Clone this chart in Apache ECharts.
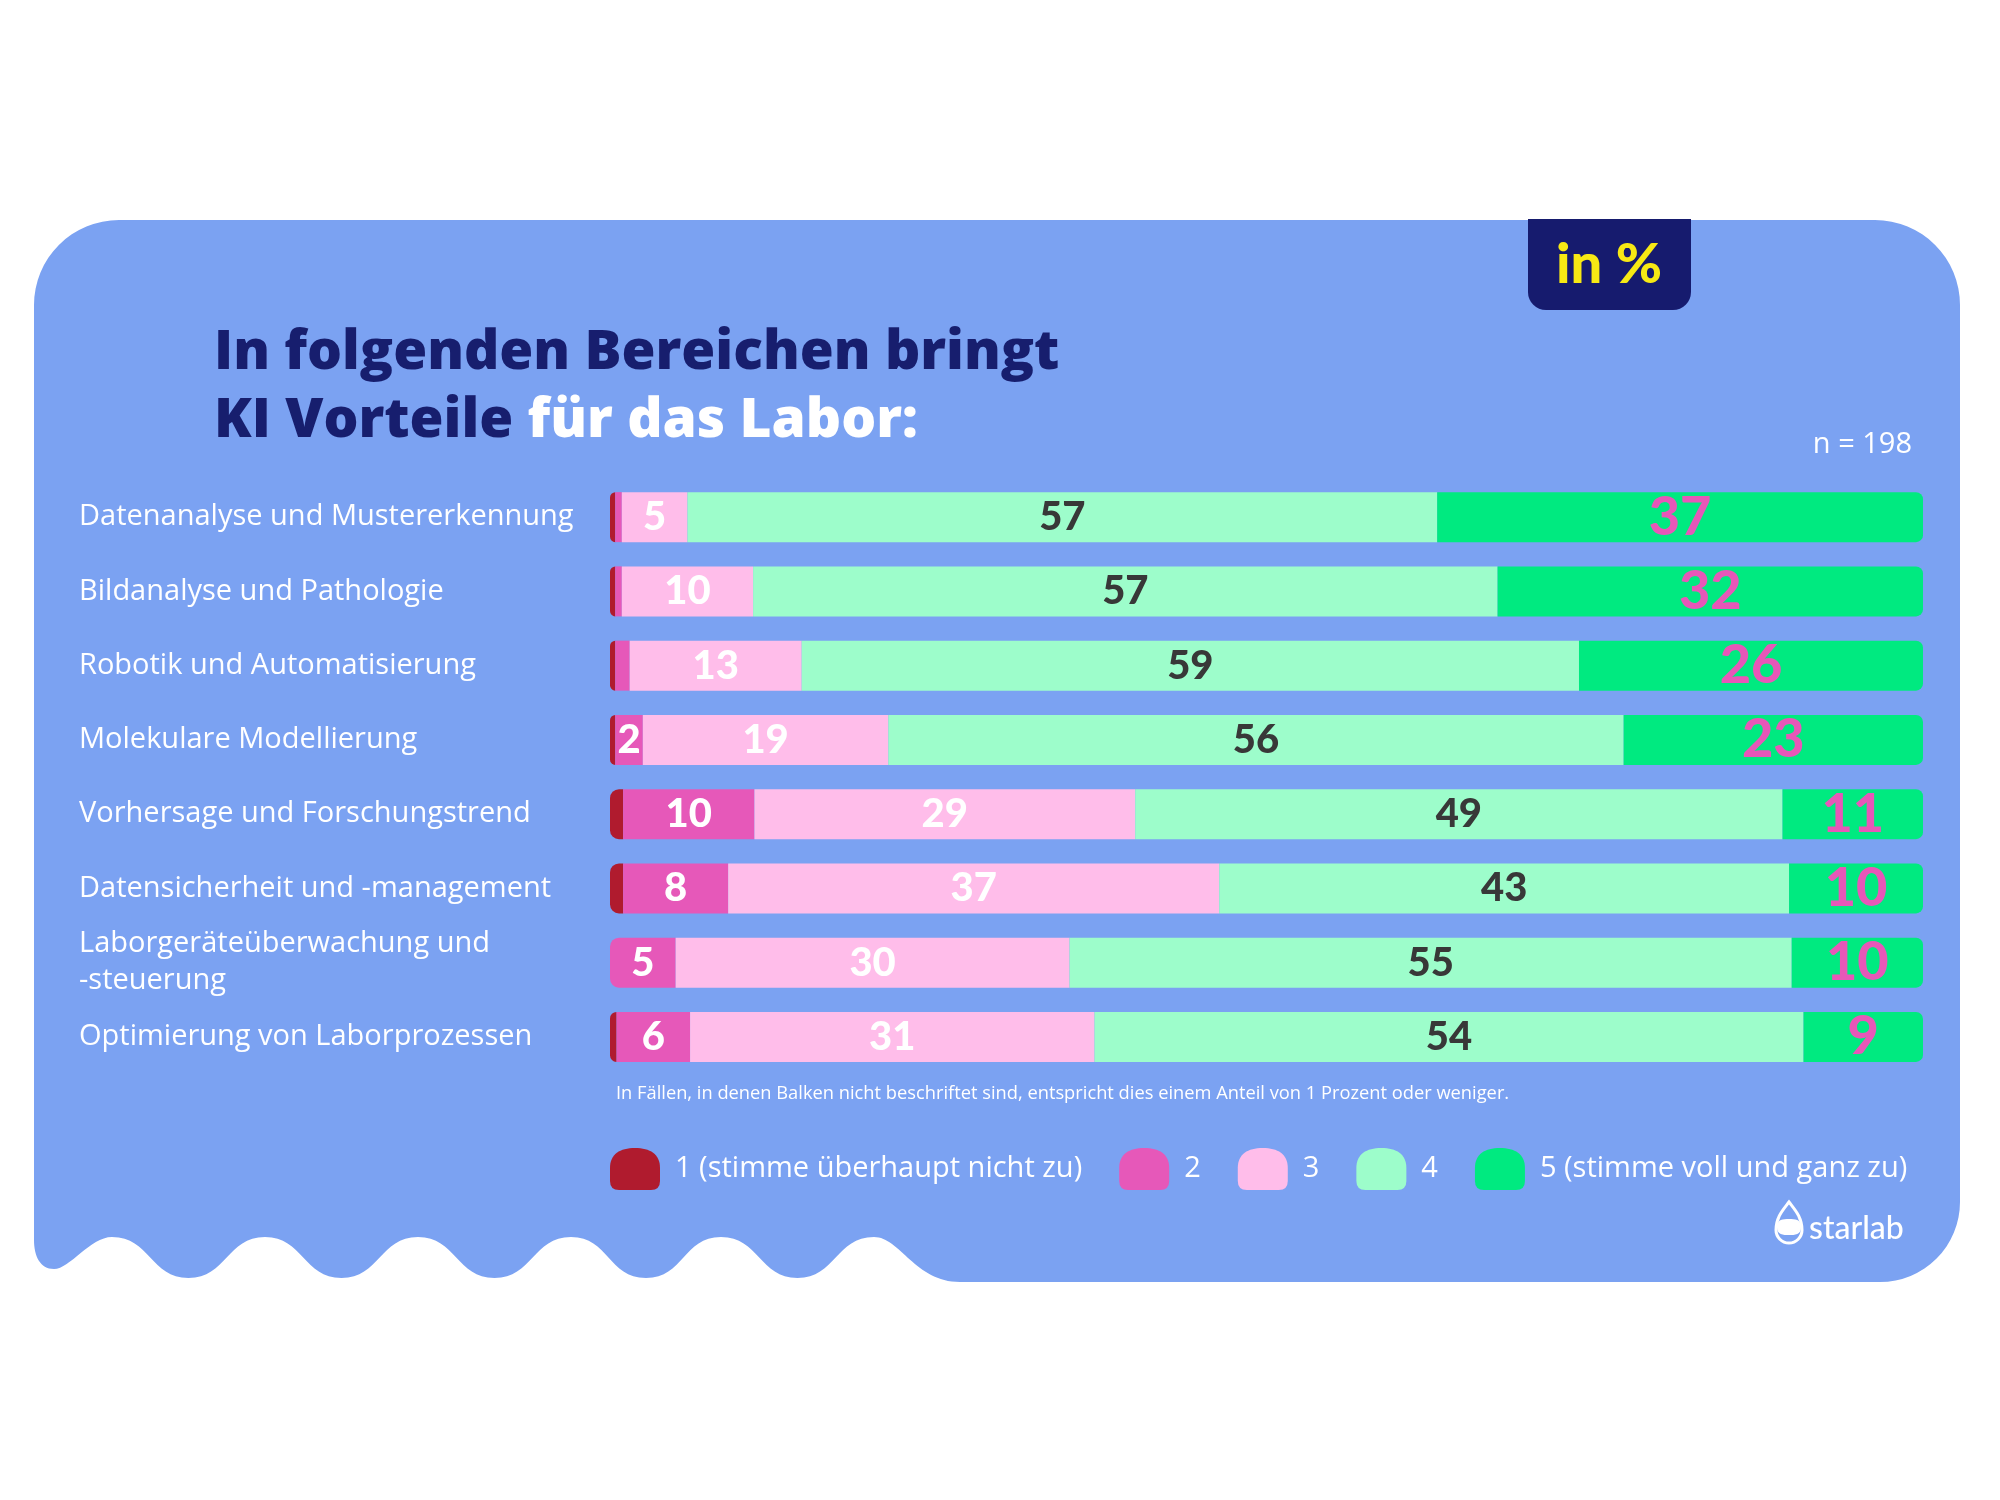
<!DOCTYPE html>
<html>
<head>
<meta charset="utf-8">
<script src="https://cdn.jsdelivr.net/npm/echarts@6.0.0/dist/echarts.min.js"></script>
<style>
  html, body { margin: 0; padding: 0; background: #fff; }
  #chart { width: 2000px; height: 1500px; }
</style>
</head>
<body>
<div id="chart"></div>
<script>
// Kategorien (von oben nach unten)
const categories = [
    'Datenanalyse und Mustererkennung',
    'Bildanalyse und Pathologie',
    'Robotik und Automatisierung',
    'Molekulare Modellierung',
    'Vorhersage und Forschungstrend',
    'Datensicherheit und -management',
    'Laborgeräteüberwachung und\n-steuerung',
    'Optimierung von Laborprozessen'
]

const seriesNames = ['1 (stimme überhaupt nicht zu)', '2', '3', '4', '5 (stimme voll und ganz zu)']

// Anteile in %
const share1 = [0.4, 0.4, 0.4, 0.4, 1.0, 1.0, 0, 0.5]
const share2 = [0.5, 0.5, 1.1, 2.1, 10, 8, 5, 5.6]
const share3 = [5, 10, 13.1, 18.7, 29, 37.4, 30, 30.8]
const share4 = [57.1, 56.7, 59.2, 56, 49.3, 43.4, 55, 54]
const share5 = [37, 32.4, 26.2, 22.8, 10.7, 10.2, 10, 9.1]

const shares = [share1, share2, share3, share4, share5]
const colors = ['#b01b2e', '#e658b9', '#ffbdea', '#9dfdcb', '#00ea80']

const labelStyles = [
    null,
    { color: '#fff', fontSize: 40 },
    { color: '#fff', fontSize: 40 },
    { color: '#383838', fontSize: 40 },
    { color: '#e757b8', fontSize: 54 }
]

// Kartenform mit Wellenrand unten links
function cardPath() {
    const top = 220, left = 34, right = 1960, bottom = 1282
    const crestY = 1237, troughY = 1278
    const crests = [874, 721, 571, 418, 265, 112]
    let d = 'M' + left + ',305 A85,85 0 0 1 119,' + top
    d += ' L1875,' + top + ' A85,85 0 0 1 ' + right + ',305'
    d += ' L' + right + ',1202 A80,80 0 0 1 1880,' + bottom
    d += ' L960,' + bottom
    d += ' C915,' + bottom + ' 900,' + crestY + ' ' + crests[0] + ',' + crestY
    for (let i = 0; i < crests.length - 1; i++) {
        const xc = crests[i]
        const next = crests[i + 1]
        const xt = (xc + next) / 2
        d += ' C' + (xc - 38) + ',' + crestY + ' ' + (xt + 38) + ',' + troughY + ' ' + xt + ',' + troughY
        d += ' C' + (xt - 38) + ',' + troughY + ' ' + (next + 38) + ',' + crestY + ' ' + next + ',' + crestY
    }
    d += ' C90,' + crestY + ' 70,1269 54,1269'
    d += ' C40,1269 34,1256 34,1240 Z'
    return d
}

echarts.graphic.registerShape('cardShape', echarts.graphic.extendPath(cardPath()))
echarts.graphic.registerShape('dropShape', echarts.graphic.extendPath(
    'M1789,1202 C1783,1210 1776,1217 1776,1230 A13,13 0 0 0 1802,1230 C1802,1217 1795,1210 1789,1202 Z'))
echarts.graphic.registerShape('dropCore', echarts.graphic.extendPath(
    'M1777,1227 C1777,1219 1783,1219 1789,1219 C1795,1219 1801,1219 1801,1227 C1801,1235 1795,1235 1789,1235 C1783,1235 1777,1235 1777,1227 Z'))

function buildSeries() {
    return shares.map((arr, s) => {
        const data = arr.map((v, i) => {
            const firstIdx = shares.findIndex(a => a[i] > 0)
            let radius = [0, 0, 0, 0]
            if (s === firstIdx) radius = [9, 0, 0, 9]
            if (s === shares.length - 1) radius = [0, 7, 7, 0]
            return { value: v, itemStyle: { borderRadius: radius } }
        })
        const ls = labelStyles[s]
        return {
            name: seriesNames[s],
            type: 'bar',
            stack: 'total',
            barWidth: 50,
            itemStyle: { color: colors[s] },
            label: ls ? {
                show: true,
                position: 'inside',
                color: ls.color,
                fontSize: ls.fontSize,
                fontFamily: 'Lato',
                fontWeight: 900,
                formatter: p => (p.value >= 1.5 ? Math.round(p.value) : '')
            } : { show: false },
            emphasis: { disabled: true },
            data: data
        }
    })
}

const blobIcon = 'path://M0,20 C0,6 10,0 25,0 C40,0 50,6 50,20 L50,33 Q50,42 41,42 L9,42 Q0,42 0,33 Z'

const option = {
    animation: false,
    backgroundColor: '#ffffff',
    grid: { left: 610, right: 77, top: 480, bottom: 426, containLabel: false, outerBoundsMode: 'none' },
    xAxis: { type: 'value', min: 0, max: 100, show: false },
    yAxis: {
        type: 'category',
        data: categories,
        inverse: true,
        axisLine: { show: false },
        axisTick: { show: false },
        splitLine: { show: false },
        axisLabel: {
            color: '#fff',
            fontSize: 29,
            fontFamily: 'Open Sans',
            align: 'left',
            margin: 531,
            lineHeight: 37
        }
    },
    legend: {
        left: 605,
        top: 1143,
        itemWidth: 50,
        itemHeight: 42,
        itemGap: 37,
        icon: blobIcon,
        textStyle: { color: '#fff', fontSize: 29, fontFamily: 'Open Sans', padding: [0, 0, 0, 10] },
        data: seriesNames
    },
    graphic: [
        { type: 'cardShape', z: -10, shape: {}, style: { fill: '#7ba2f2' } },
        { type: 'rect', z: -5, shape: { x: 1528, y: 219, width: 163, height: 91, r: [0, 0, 18, 18] }, style: { fill: '#161b6e' } },
        { type: 'text', x: 1609, y: 265, style: { text: 'in %', fill: '#f7e914', font: '900 56px Lato', align: 'center', verticalAlign: 'middle' } },
        { type: 'text', x: 214, y: 353, style: { text: 'In folgenden Bereichen bringt', fill: '#171e6e', font: '800 55px "Open Sans"', verticalAlign: 'middle' } },
        {
            type: 'text', x: 214, y: 421,
            style: {
                text: '{a|KI Vorteile }{b|für das Labor:}',
                verticalAlign: 'middle',
                rich: {
                    a: { fill: '#171e6e', fontSize: 55, fontWeight: 800, fontFamily: 'Open Sans' },
                    b: { fill: '#ffffff', fontSize: 55, fontWeight: 800, fontFamily: 'Open Sans' }
                }
            }
        },
        { type: 'text', x: 1912, y: 445, style: { text: 'n = 198', fill: '#fff', font: '29px "Open Sans"', align: 'right', verticalAlign: 'middle' } },
        { type: 'text', x: 616, y: 1094, style: { text: 'In Fällen, in denen Balken nicht beschriftet sind, entspricht dies einem Anteil von 1 Prozent oder weniger.', fill: '#fff', font: '18.3px "Open Sans"', verticalAlign: 'middle' } },
        { type: 'dropShape', shape: {}, style: { fill: 'none', stroke: '#fff', lineWidth: 3 } },
        { type: 'dropCore', shape: {}, style: { fill: '#fff' } },
        { type: 'text', x: 1809, y: 1229, style: { text: 'starlab', fill: '#fff', font: '500 32px Lato', verticalAlign: 'middle' } }
    ],
    series: buildSeries()
}

const chart = echarts.init(document.getElementById('chart'))
chart.setOption(option)
window.onresize = () => {
    chart.resize()
}
</script>
</body>
</html>
